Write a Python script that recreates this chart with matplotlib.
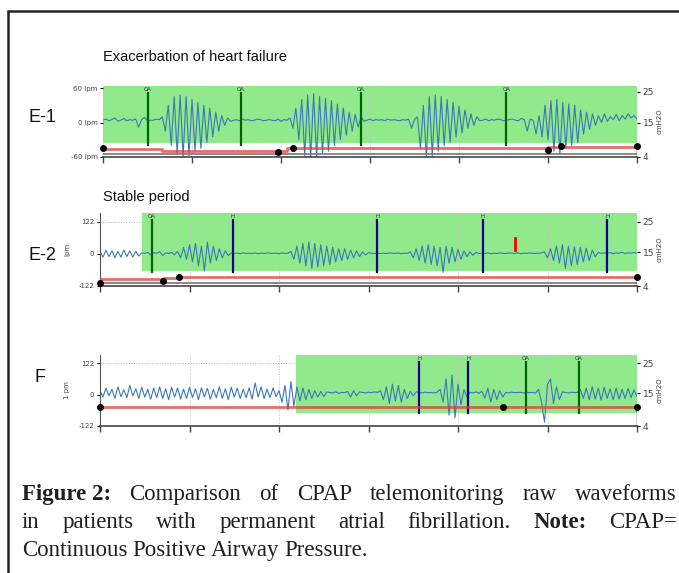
import matplotlib
matplotlib.use("Agg")
import matplotlib.pyplot as plt
from matplotlib.patches import Rectangle

FIG_W, FIG_H = 679, 573
NARROW = ["Liberation Sans Narrow", "Liberation Sans", "DejaVu Sans"]
SERIF = ["Liberation Serif", "DejaVu Serif"]

GREEN_BG = "#90ea8c"
FLOW_COLOR = "#3a78b8"
OA_COLOR = "#006400"
H_COLOR = "#00008b"
RED = "#e03c3c"

# time axis: 181 samples, 6 tick intervals
minutes = list(range(181))

# E-1: exacerbation of heart failure (flow, lpm)
e1_flow = [
    4, 6, 3, 5, 8, 2, 4, 7, 3, 5, 4, 6, -8, 5, 9, 3, 4, 4, 6, 5,
    10, -15, 30, -40, 45, -55, 48, -60, 45, -58, 40, -50, 35, -45, 30, -35, 25, -25, 18, -15, 12, -5, 8, 2,
    4, 5, 3, 6, 4, 5, 3, 4, 6, 5, 3, 4, 5, 4, 3, 6, 2, 5, 4,
    8, -10, 25, -30, 40, -58, 48, -62, 50, -60, 45, -55, 42, -50, 38, -40, 32, -30, 25, -22, 18, -15, 14, -8, 10, 2,
    4, 6, 3, 5, 4, 5, 3, 6, 4, 5, 4, 3, 5, 4, 6, -10, 5,
    10, -45, 30, -60, 45, -58, 48, -50, 45, -40, 40, -35, 35, -25, 28, -18, 22, -10, 15, -5, 10, 3,
    4, 6, 3, 5, 4, 6, 5, 3, 4, 5, 6, 4, 3, 7, 5, -15, 6, 4, -20,
    12, -25, 30, -30, 38, -50, 40, -55, 35, -45, 32, -40, 30, -35, 22, -20, 18, -12, 15, -5,
    12, 0, 15, 2, 10, 5, 14, 3, 12, 6, 15, 8, 12, 6,
]
e1_event_t = [15, 46.5, 87, 136]
e1_event_kind = ["OA", "OA", "OA", "OA"]
e1_press_t = [0, 20, 59, 62, 150, 180]
e1_press_v = [6.6, 5.8, 5.8, 6.8, 7.3, 7.3]
e1_mark_t = [0, 59, 64, 150, 154.5, 180]
e1_mark_p = [6.9, 5.6, 6.9, 6.3, 7.6, 7.6]

# E-2: stable period
e2_flow = [
    10, -12, 14, -10, 12, -14, 10, -12, 15, -10, 12, -12, 10, -8,
    4, 2, 6, -4, 5, 3, 8, -6, 4, 2, 6, -3,
    10, -15, 25, -20, 35, -30, 40, -45, 30, -65, 45, -35, 30, -25, 20, -15, 12, -6,
    4, 2, 3, 1, 4, 2, 3, 2, 4, 1, 3, 2, 4, 3, 2, 3, 1, 4, 2, 3,
    10, -20, 30, -35, 40, -45, 45, -55, 40, -50, 35, -45, 30, -40, 25, -30, 20,
    -25, 20, -20, 15, -15, 12, -10, 8, -4, 5,
    3, 2, 4, 1, 3, 2, 4, 3, 2, 4, 1, 3, 2,
    8, -15, 20, -25, 30, -35, 35, -40, 30, -45, 25, -70, 30, -35, 25, -30, 18, -20,
    12, -10, 8, -5, 6, 2,
    3, 2, 4, 1, 3, 2, 4, 3, 2, 4, 3, 2, 4, 1, 3, 2, 4, 3, 2, 3, 4,
    8, -15, 20, -25, 30, -35, 35, -55, 30, -45, 28, -40, 25, -30, 22, -25, 15, -10,
    6, 2, 4, 3, 5, 2, 4, 3, 6, 2, 4, 3, 5, 3,
]
e2_event_t = [17.4, 44.6, 92.9, 128.4, 170]
e2_event_kind = ["OA", "H", "H", "H", "H"]
e2_press_t = [0, 21, 27, 180]
e2_press_v = [6.3, 6.7, 6.9, 6.9]
e2_mark_t = [0, 21, 26.5, 180]
e2_mark_p = [5.0, 5.6, 6.9, 6.9]

# F
f_flow = [
    15, -10, 25, -5, 20, -15, 30, -8, 18, -12,
    35, -5, 22, -15, 28, -10, 20, -18, 25, -12,
    30, -15, 22, -20, 28, -10, 25, -18, 20, -15,
    28, -12, 22, -20, 26, -10, 24, -18, 20, -12,
    30, -15, 22, -20, 28, -10, 24, -15, 20, -12,
    26, -18, 45, -10, 30, -15, 20, -12, 25, -8,
    15, -30, 35, -60, 50, -45,
    30, -25, 25, -20, 20, -15, 15, -10, 12, -8, 10,
    8, 6, 10, 5, 8, 7, 12, -10, 15, -5, 10, 8, 6, 9, 7, 10, 8,
    15, -20, 30, -35, 40, -25, 35, -30, 20, -15, 12, -5, 10,
    8, 6, 9, 7, 8, 6, 9,
    20, -30, 60, -80, 75, -90, 40, -40, 20, -10,
    8, 6, 10, 5, 12, -15, 25, -30, 20, -20, 15, -10, 8, 6, 9, 7, 8,
    8, 6, 9, 7, 8, 6,
    20, -30, -107, 40, 60, -35, 30, -20, 10,
    8, 6, 9, 7, 8,
    20, -15, 25, -20, 30, -18, 25, -22, 28, -15, 22, -20, 25, -18, 20, -15, 24, -12, 18, -8,
]
f_event_t = [107, 123.4, 142.7, 160.4]
f_event_kind = ["H", "H", "OA", "OA"]
f_press_t = [0, 180]
f_press_v = [10.3, 10.3]
f_mark_t = [0, 135, 180]
f_mark_p = [10.3, 10.3, 10.3]


def box(x0, x1, ytop, ybot):
    return [x0 / FIG_W, 1 - ybot / FIG_H, (x1 - x0) / FIG_W, (ybot - ytop) / FIG_H]


def draw_panel(fig, rect, flow, flow_lim, flow_ticks, flow_labels, press_lim,
               green, events, kinds, span, press_t, press_v, marks_t, marks_p,
               gray=None, left_spine=True, ylabel=None):
    ax = fig.add_axes(rect)
    ax.set_xlim(0, 180)
    ax.set_ylim(*flow_lim)
    ax.set_xticks(range(0, 181, 30))
    ax.tick_params(axis="x", length=4, width=1, color="#444444", labelbottom=False)
    ax.grid(axis="x", ls=":", color="#c0c0c0", lw=0.7, zorder=0)
    ax.axhline(flow_ticks[-1], ls=":", color="#b0b0b0", lw=0.7, zorder=0)
    for s in ["top", "right"]:
        ax.spines[s].set_visible(False)
    ax.spines["bottom"].set_color("#444444")
    ax.spines["bottom"].set_linewidth(1.2)
    ax.spines["left"].set_visible(left_spine)
    ax.spines["left"].set_color("#555555")
    ax.set_yticks(flow_ticks)
    ax.set_yticklabels(flow_labels, fontsize=5, color="#444444")
    ax.tick_params(axis="y", length=2, pad=2)
    if ylabel:
        ax.set_ylabel(ylabel, fontsize=5, color="#444444", labelpad=6)

    ax.fill_between([green[0], green[1]], green[2], flow_lim[1], color=GREEN_BG, lw=0, zorder=1)
    ax.plot(minutes, flow, color=FLOW_COLOR, lw=0.8, zorder=2)
    for t, k in zip(events, kinds):
        c = OA_COLOR if k == "OA" else H_COLOR
        ax.plot([t, t], span, color=c, lw=1.6, zorder=3)
        ax.annotate(k, (t, span[1]), xytext=(0, 1), textcoords="offset points",
                    ha="center", va="bottom", fontsize=4, color="#333333", zorder=4)

    ax2 = ax.twinx()
    ax2.set_ylim(*press_lim)
    for s in ax2.spines.values():
        s.set_visible(False)
    ax2.set_yticks([4, 15, 25])
    ax2.set_yticklabels(["4", "15", "25"], fontsize=6.5, color="#444444")
    ax2.tick_params(axis="y", length=2, pad=2)
    ax2.set_ylabel("cmH2O", fontsize=5, color="#444444", rotation=90, labelpad=2)
    if gray is not None:
        ax2.plot([0, 180], [gray, gray], color="#777777", lw=1.2)
    ax2.step(press_t, press_v, where="post", color=RED, alpha=0.75, lw=2)
    ax2.plot([180, 180], [press_lim[0], marks_p[-1]], color="black", lw=1)
    ax2.plot(marks_t, marks_p, "o", color="black", ms=4, clip_on=False)
    return ax


def justify_line(fig, renderer, words, y, x0, x1, size, justify=True):
    texts = []
    for w, bold in words:
        t = fig.text(0, 1 - y / FIG_H, w, fontsize=size, family=SERIF, color="#231f20",
                     weight="bold" if bold else "normal", va="baseline", ha="left")
        texts.append(t)
    widths = [t.get_window_extent(renderer).width for t in texts]
    if justify and len(texts) > 1:
        gap = (x1 - x0 - sum(widths)) / (len(texts) - 1)
    else:
        gap = size * 0.3
    x = x0
    for t, w in zip(texts, widths):
        t.set_x(x / FIG_W)
        x += w + gap


def main() -> None:
    fig = plt.figure(figsize=(FIG_W / 100, FIG_H / 100), dpi=100)

    # outer frame, running off the right and bottom edges
    fig.patches.append(Rectangle((8 / FIG_W, -0.05), 1.1, 1 - 11 / FIG_H + 0.05,
                                 transform=fig.transFigure, fill=False, lw=1.8,
                                 edgecolor="#222222", clip_on=False))

    draw_panel(fig, box(103, 637, 86, 157), e1_flow, (-60, 63.5), [-60, 0, 60],
               ["-60 lpm", "0 lpm", "60 lpm"], (4, 26.9), (0, 180, -35.6),
               e1_event_t, e1_event_kind, (-39, 51), e1_press_t, e1_press_v,
               e1_mark_t, e1_mark_p, gray=5.0, left_spine=False)
    draw_panel(fig, box(100, 637, 213, 286), e2_flow, (-122, 156), [-122, 0, 122],
               ["-122", "0", "122"], (4, 27.95), (14.1, 180, -65),
               e2_event_t, e2_event_kind, (-69, 128), e2_press_t, e2_press_v,
               e2_mark_t, e2_mark_p, gray=5.0, ylabel="lpm")
    draw_panel(fig, box(100, 637, 355, 426), f_flow, (-122, 153), [-122, 0, 122],
               ["-122", "0", "122"], (4, 27.67), (65.7, 180, -72),
               f_event_t, f_event_kind, (-71, 124), f_press_t, f_press_v,
               f_mark_t, f_mark_p, ylabel="1 pm")

    # red flag mark in E-2
    fig.axes[2].plot([139, 139], [15, 61], color="red", lw=2, zorder=4)

    fig.text(103 / FIG_W, 1 - 57 / FIG_H, "Exacerbation of heart failure", family=NARROW,
             fontsize=10.5, va="center", ha="left", color="#111111")
    fig.text(103 / FIG_W, 1 - 197 / FIG_H, "Stable period", family=NARROW,
             fontsize=10.5, va="center", ha="left", color="#111111")
    for label, x, y in [("E-1", 28, 117), ("E-2", 28, 255), ("F", 34, 378)]:
        fig.text(x / FIG_W, 1 - y / FIG_H, label, family=NARROW, fontsize=13,
                 va="center", ha="left", color="#111111")

    renderer = fig.canvas.get_renderer()
    size = 16.5
    line1 = [("Figure 2:", True), ("Comparison", False), ("of", False),
             ("CPAP", False), ("telemonitoring", False), ("raw", False), ("waveforms", False)]
    line2 = [("in", False), ("patients", False), ("with", False), ("permanent", False),
             ("atrial", False), ("fibrillation.", False), ("Note:", True), ("CPAP=", False)]
    line3 = [("Continuous", False), ("Positive", False), ("Airway", False), ("Pressure.", False)]
    justify_line(fig, renderer, line1, 500, 22, 677, size)
    justify_line(fig, renderer, line2, 528, 22, 677, size)
    justify_line(fig, renderer, line3, 556, 22, 677, size, justify=False)

    fig.savefig("out.png", dpi=100)


if __name__ == "__main__":
    main()
